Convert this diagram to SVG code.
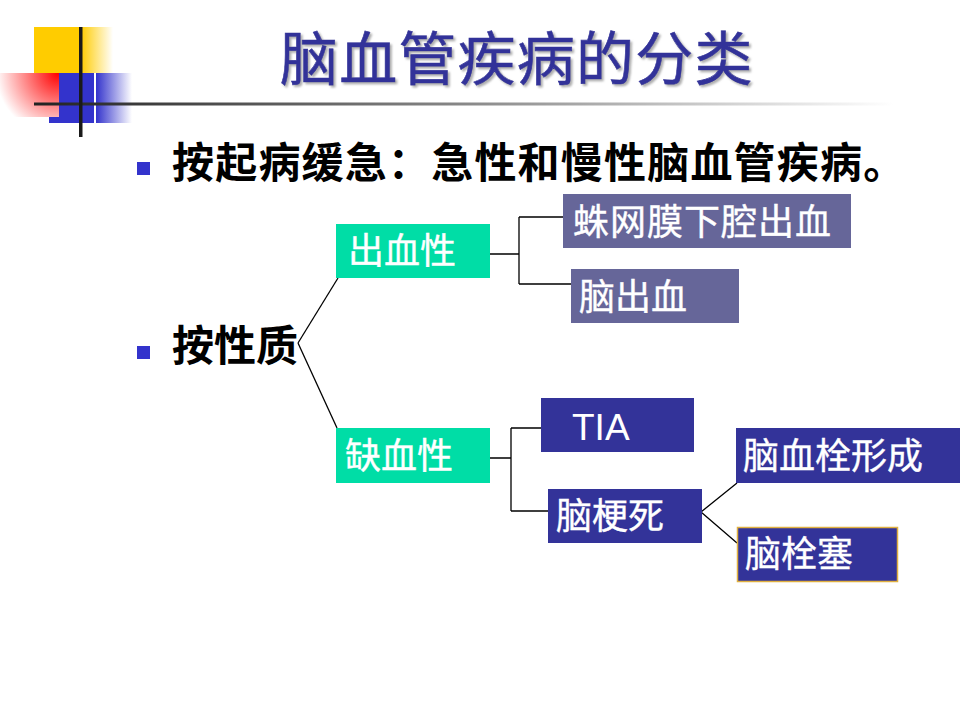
<svg xmlns="http://www.w3.org/2000/svg" width="960" height="720" viewBox="0 0 960 720">
<defs>
<style>
.cjk{font-family:"Noto Sans CJK SC","Noto Sans",sans-serif;}
.box-text{font-family:"Noto Sans CJK SC","Noto Sans",sans-serif;font-size:36px;fill:#ffffff;stroke:#ffffff;stroke-width:0.4;}
.bullet-text{font-family:"Noto Sans CJK SC","Noto Sans",sans-serif;font-size:42px;font-weight:bold;fill:#000000;}
.green{fill:#00DDA6;}
.slate{fill:#666699;}
.navy{fill:#333399;}
.bullet{fill:#3333CC;}
.conn{stroke:#000000;stroke-width:1.3;fill:none;}
</style>
<linearGradient id="yellowFade" x1="0" y1="0" x2="1" y2="0">
<stop offset="0" stop-color="#FFCC00"/>
<stop offset="1" stop-color="#FFCC00" stop-opacity="0"/>
</linearGradient>
<linearGradient id="blueFade" x1="0" y1="0" x2="1" y2="0">
<stop offset="0" stop-color="#3333CC"/>
<stop offset="1" stop-color="#3333CC" stop-opacity="0"/>
</linearGradient>
<radialGradient id="redFade" gradientUnits="userSpaceOnUse" cx="58" cy="73" r="62">
<stop offset="0" stop-color="#FF0000"/>
<stop offset="1" stop-color="#FFFFFF"/>
</radialGradient>
<linearGradient id="ruleFade" x1="0" y1="0" x2="1" y2="0">
<stop offset="0" stop-color="#222222"/>
<stop offset="0.5" stop-color="#888888"/>
<stop offset="1" stop-color="#FFFFFF"/>
</linearGradient>
<filter id="shadow" x="-5%" y="-20%" width="110%" height="140%">
<feDropShadow dx="2" dy="2" stdDeviation="1" flood-color="#999999" flood-opacity="0.8"/>
</filter>
</defs>
<rect width="960" height="720" fill="#ffffff"/>

<g id="logo">
<rect x="34" y="27" width="47" height="46" fill="#FFCC00"/>
<rect x="81" y="27" width="32" height="46" fill="url(#yellowFade)"/>
<rect x="49" y="73" width="45" height="50" fill="#3333CC"/>
<rect x="0" y="73" width="59" height="44" fill="url(#redFade)"/>
<rect x="96" y="73" width="36" height="50" fill="url(#blueFade)"/>
<rect x="34" y="102.5" width="860" height="3" fill="url(#ruleFade)"/>
<rect x="79" y="27" width="3.5" height="110" fill="#1a1a1a"/>
</g>

<g id="title">
<text class="cjk" x="280" y="80" font-size="58" letter-spacing="1.2" fill="#333399" stroke="#333399" stroke-width="0.6" filter="url(#shadow)">脑血管疾病的分类</text>
</g>

<g id="bullet1">
<rect class="bullet" x="137" y="162" width="13" height="13"/>
<text class="bullet-text" x="172" y="178" letter-spacing="1.2">按起病缓急：急性和慢性脑血管疾病。</text>
</g>

<g id="bullet2">
<rect class="bullet" x="137" y="346" width="13" height="13"/>
<text class="bullet-text" x="172" y="361">按性质</text>
</g>

<g id="connectors">
<path class="conn" d="M298,343 L338,278"/>
<path class="conn" d="M298,343 L337,428"/>
<path class="conn" d="M490,254 H519 M519,217 V284 M519,217 H563 M519,284 H571"/>
<path class="conn" d="M490,458 H511 M511,428 V511 M511,428 H541 M511,511 H548"/>
<path class="conn" d="M701,512 L737,483 M701,512 L737,543"/>
</g>

<g id="node-hemorrhagic">
<rect class="green" x="336" y="224" width="154" height="54"/>
<text class="box-text" x="348" y="264">出血性</text>
</g>

<g id="node-sah">
<rect class="slate" x="563" y="194" width="288" height="54"/>
<text class="box-text" x="573" y="235" letter-spacing="1">蛛网膜下腔出血</text>
</g>

<g id="node-ich">
<rect class="slate" x="571" y="269" width="168" height="54"/>
<text class="box-text" x="579" y="310">脑出血</text>
</g>

<g id="node-ischemic">
<rect class="green" x="336" y="428" width="154" height="55"/>
<text class="box-text" x="345" y="469">缺血性</text>
</g>

<g id="node-tia">
<rect class="navy" x="541" y="398" width="153" height="54"/>
<text x="572" y="440" font-family="'Liberation Sans',Arial,sans-serif" font-size="37" fill="#ffffff">TIA</text>
</g>

<g id="node-infarction">
<rect class="navy" x="548" y="489" width="154" height="54"/>
<text class="box-text" x="556" y="529">脑梗死</text>
</g>

<g id="node-thrombosis">
<rect class="navy" x="736" y="428" width="224" height="55"/>
<text class="box-text" x="743" y="469">脑血栓形成</text>
</g>

<g id="node-embolism">
<rect class="navy" x="737.5" y="527.5" width="160" height="54" stroke="#E0B040" stroke-width="1.5"/>
<text class="box-text" x="745" y="567">脑栓塞</text>
</g>
</svg>
